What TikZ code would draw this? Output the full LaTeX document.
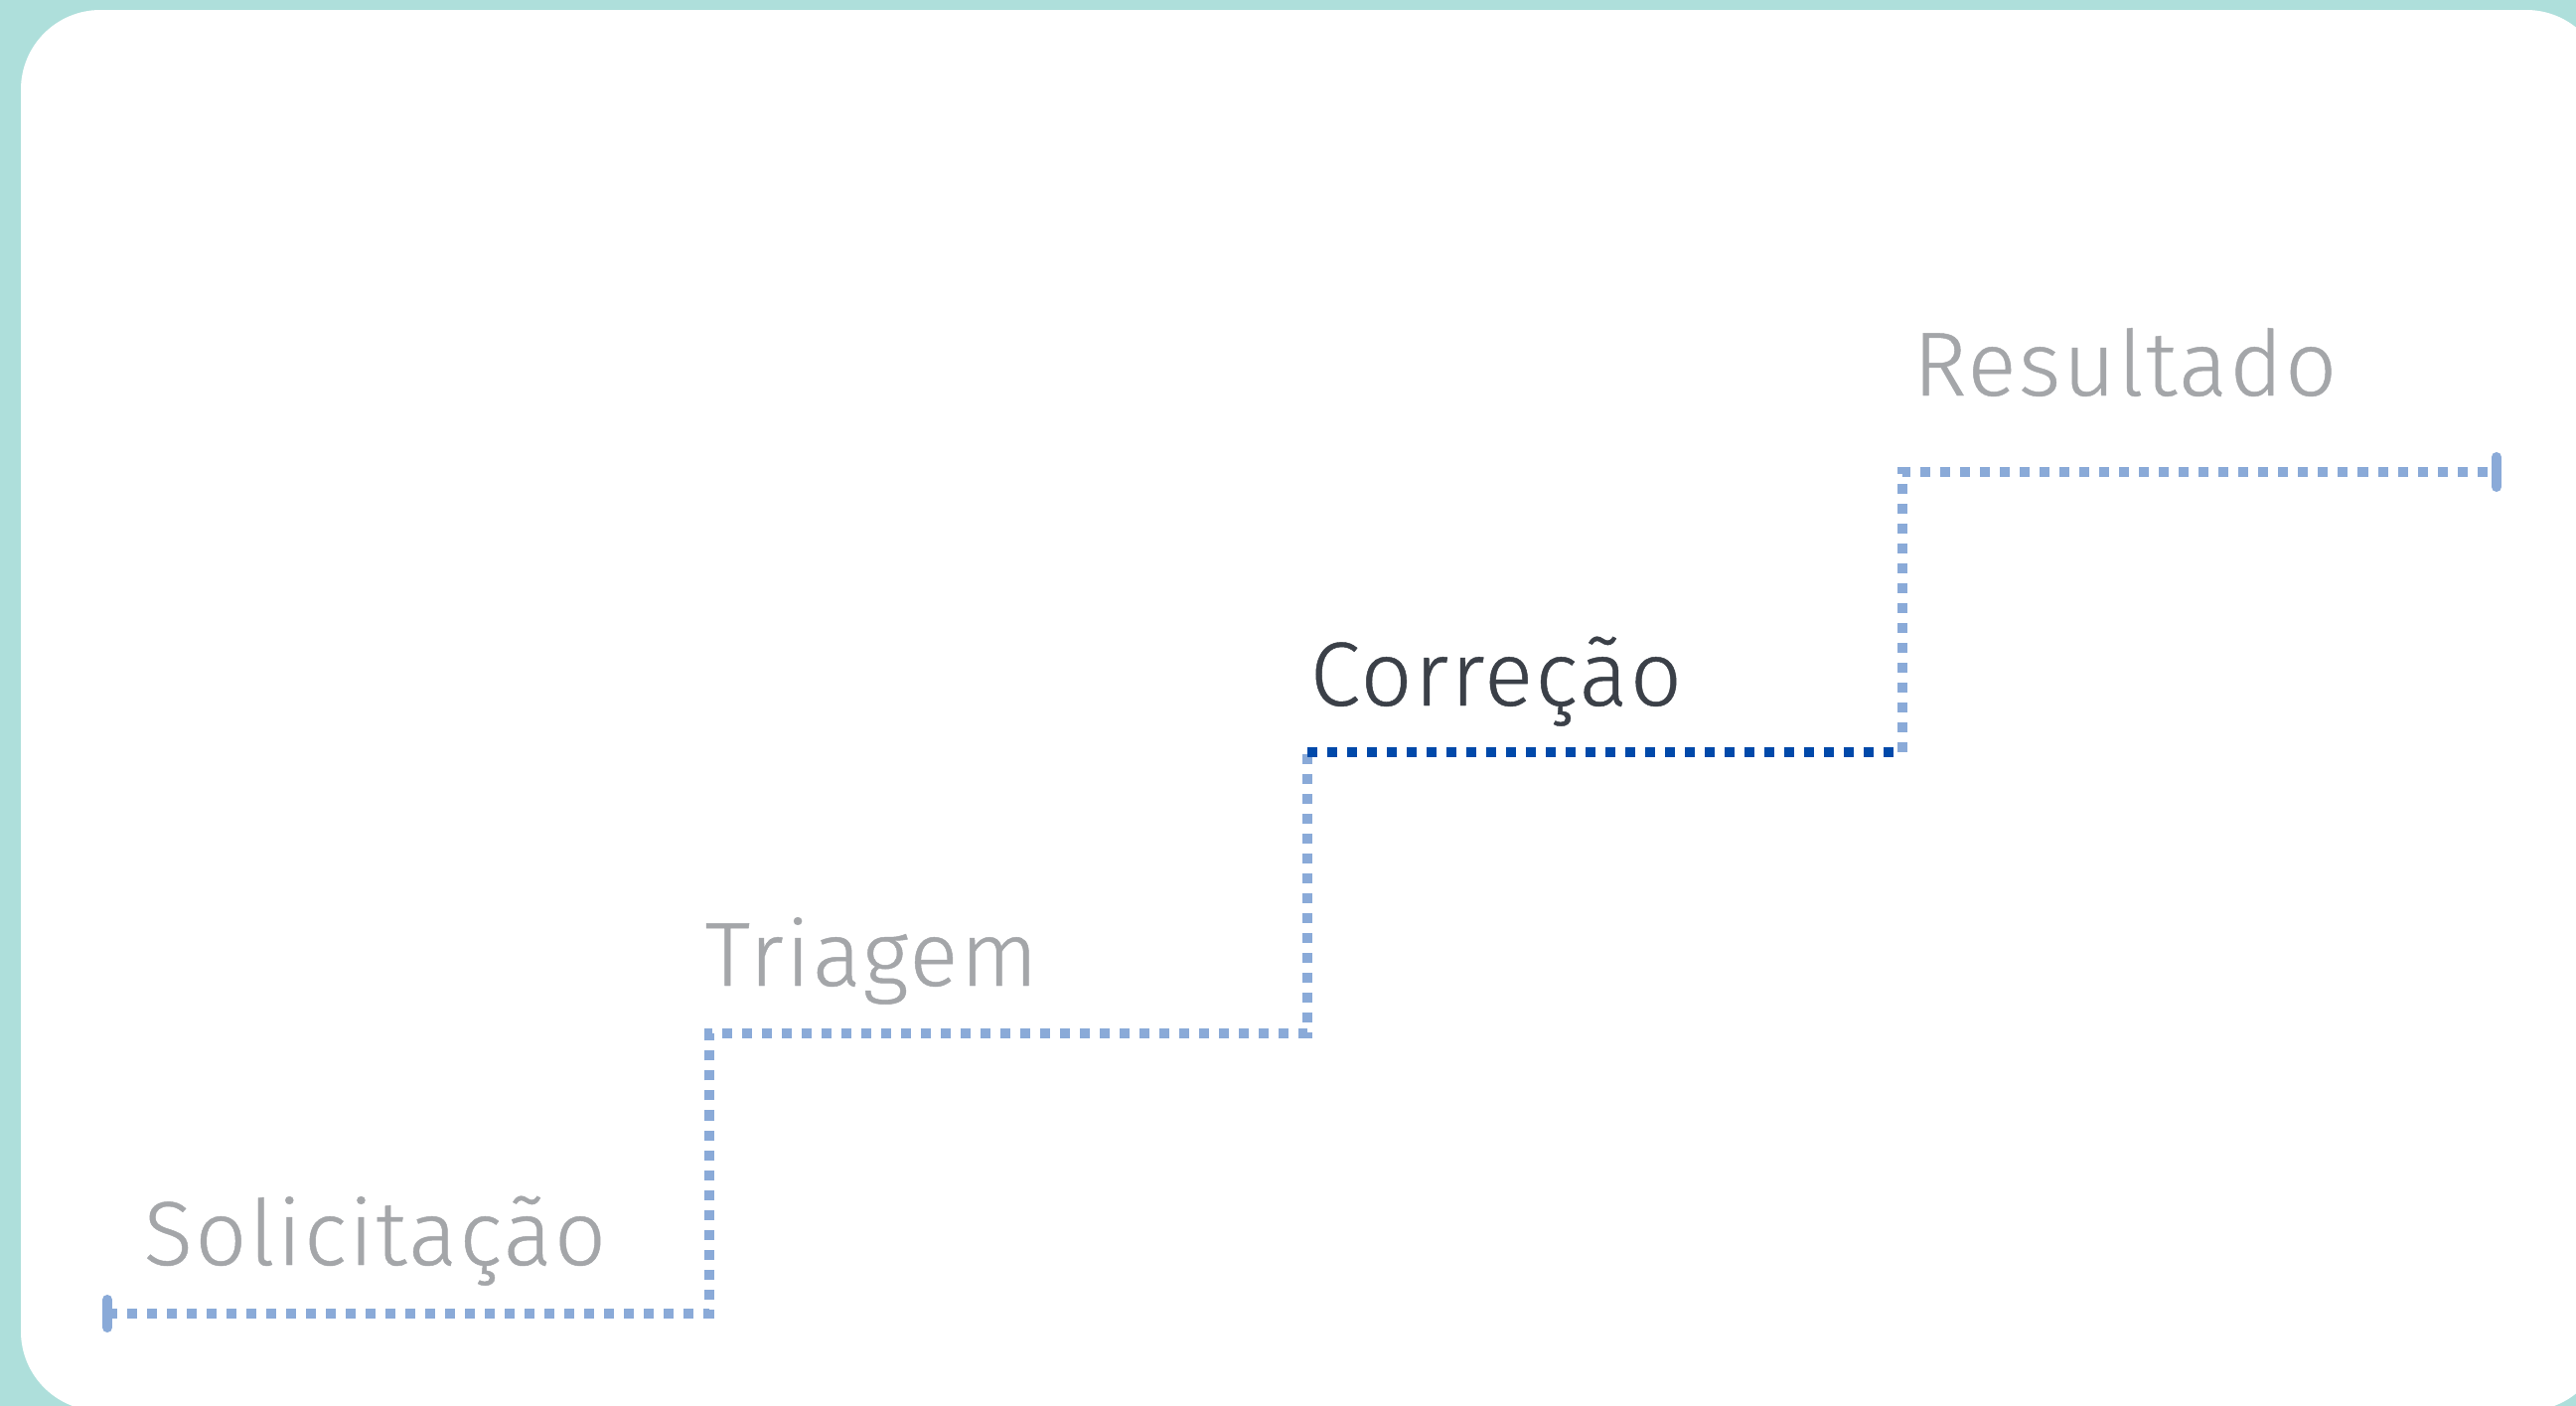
\documentclass[tikz,border=0pt]{standalone}
\usepackage{fontspec}
\setmainfont{Fira Sans}[UprightFont={* Light}, LetterSpace=2.5, FakeBold=0.5]

\definecolor{frameteal}{HTML}{AEDFDB}
\definecolor{stairblue}{HTML}{8AAAD8}
\definecolor{activeblue}{HTML}{0049AA}
\definecolor{labelgray}{HTML}{A4A6A9}
\definecolor{labeldark}{HTML}{3B4048}

\begin{document}
\begin{tikzpicture}[x=0.01cm, y=-0.01cm,
  every node/.style={font=\fontsize{26}{30}\selectfont, inner sep=0pt, anchor=base west},
  stair/.style={line width=0.1cm, dash pattern=on 0.1cm off 0.1cm, draw=stairblue},
  endtick/.style={line width=0.1cm, line cap=round, draw=stairblue}]
  \useasboundingbox (0,0) rectangle (2593,1415);
  \clip (0,0) rectangle (2593,1415);

  % frame
  \fill[frameteal] (0,0) rectangle (2593,1415);
  \fill[white, rounded corners=0.8cm] (21,10) rectangle (2623,1420);

  % corners of the stairs
  \coordinate (s0) at (108,1322);
  \coordinate (c1) at (714,1322);
  \coordinate (t1) at (714,1040);
  \coordinate (c2) at (1316,1040);
  \coordinate (t2) at (1316,757);
  \coordinate (c3) at (1915,757);
  \coordinate (t3) at (1915,475);
  \coordinate (s4) at (2513,475);

  % stage labels
  \node[text=labelgray] (solic) at (144,1273) {Solicitação};
  \node[text=labelgray] (triag) at (709,992) {Triagem};
  \node[text=labeldark] (corr) at (1318,710) {Correção};
  \node[text=labelgray] (result) at (1925,398) {Resultado};

  % steps
  \draw[stair] (s0) -- (c1) -- (t1) -- (c2) -- (t2);
  \draw[stair] (c3) -- (t3) -- (s4);
  \draw[stair, draw=activeblue] (t2) -- (c3);

  % end marks
  \draw[endtick] ([yshift=-0.14cm]s0) -- ([yshift=0.14cm]s0);
  \draw[endtick] ([yshift=-0.15cm]s4) -- ([yshift=0.15cm]s4);
\end{tikzpicture}
\end{document}
